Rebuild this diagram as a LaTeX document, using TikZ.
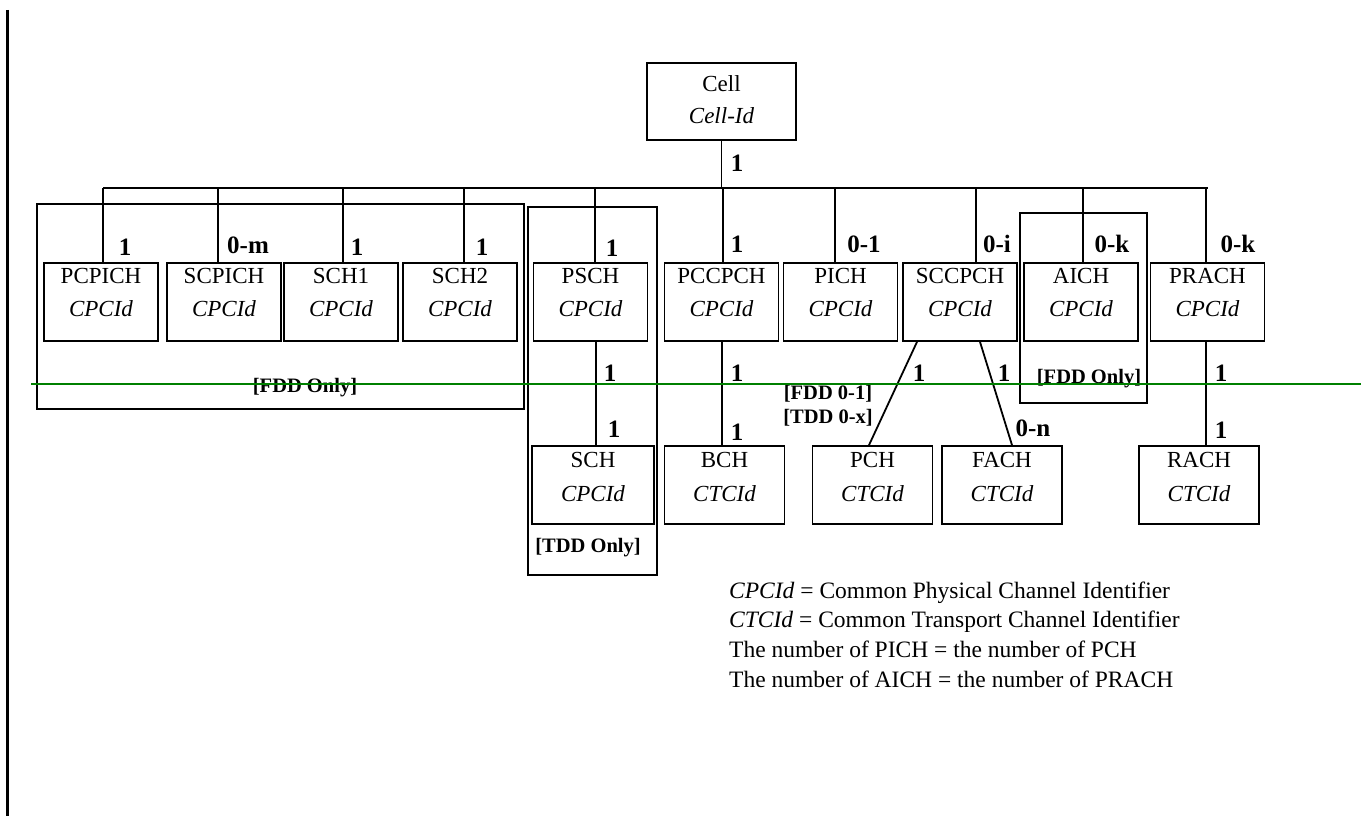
\documentclass[tikz,border=0pt]{standalone}
\usepackage{fontspec}
\setmainfont{Liberation Serif}
\usetikzlibrary{calc}
\begin{document}
\begin{tikzpicture}[x=1pt,y=-1pt,
  chbox/.style={draw, line width=1.8pt, minimum width=114pt, minimum height=78pt, inner sep=0pt},
  lowbox/.style={chbox, minimum width=120pt},
  txt/.style={font=\fontsize{23}{26}\selectfont, inner sep=0pt},
  idtxt/.style={font=\fontsize{23}{26}\selectfont\itshape, inner sep=0pt},
  lab/.style={font=\fontsize{25}{28}\selectfont\bfseries, inner sep=0pt},
  glab/.style={font=\fontsize{20.5}{24}\selectfont\bfseries, inner sep=0pt},
  grp/.style={draw, line width=1.8pt},
  conn/.style={line width=1.8pt},
  legend/.style={font=\fontsize{23.5}{26}\selectfont, inner sep=0pt, anchor=base west}]
\useasboundingbox (0,0) rectangle (1371,816);
\definecolor{lgreen}{RGB}{0,128,0}

% left margin line
\coordinate (mt) at (7.5,10);
\coordinate (mb) at (7.5,816);
\draw[line width=2.2pt] (mt) -- (mb);

% group frames
\node[grp, minimum width=487pt, minimum height=205pt, inner sep=0pt] (gFDD) at (280.5,306.5) {};
\node[grp, minimum width=129pt, minimum height=368pt, inner sep=0pt] (gTDD) at (592.5,391) {};
\node[grp, minimum width=127pt, minimum height=190pt, inner sep=0pt] (gAICH) at (1083.5,308) {};
\node[glab] (lFDD) at (305,388) {[FDD Only]};
\node[glab] (lTDD) at (588,548) {[TDD Only]};
\node[glab] (lAICH) at (1089,379) {[FDD Only]};

% Cell
\node[draw, line width=1.8pt, minimum width=149pt, minimum height=77pt, inner sep=0pt] (Cell) at (721.5,101.5) {};
\node[txt] (CellT) at (721.5,84) {Cell};
\node[idtxt] (CellI) at (721.5,116) {Cell-Id};

% first level boxes
\foreach \n/\x/\t in {PCPICH/101/PCPICH, SCPICH/224/SCPICH, SCHa/341/SCH1, SCHb/460/SCH2,
                      PSCH/590.5/PSCH, PCCPCH/721.5/PCCPCH, PICH/840.5/PICH, SCCPCH/960/SCCPCH,
                      AICH/1081/AICH, PRACH/1207.5/PRACH}{
  \node[chbox] (\n) at (\x,302) {};
  \node[txt] (\n T) at (\x,276) {\t};
  \node[idtxt] (\n I) at (\x,309) {CPCId};
}

% second level boxes
\node[lowbox, minimum width=122pt] (SCH) at (593,485) {};
\node[txt] (SCHT) at (593,460) {SCH};
\node[idtxt] (SCHI) at (593,494) {CPCId};
\foreach \n/\x in {BCH/724.5, PCH/872.5, FACH/1002, RACH/1199}{
  \node[lowbox] (\n) at (\x,485) {};
  \node[txt] (\n T) at (\x,460) {\n};
  \node[idtxt] (\n I) at (\x,494) {CTCId};
}

% bus
\coordinate (busL) at (103,188);
\coordinate (busR) at (1208,188);
\draw[conn] (busL) -- (busR);
\draw[conn] (Cell.south) -- (Cell.south |- busL);
\draw[conn] ([xshift=2pt]PCPICH.north) -- ([xshift=2pt]PCPICH.north |- busL);
\draw[conn] ([xshift=-6pt]SCPICH.north) -- ([xshift=-6pt]SCPICH.north |- busL);
\draw[conn] ([xshift=2pt]SCHa.north) -- ([xshift=2pt]SCHa.north |- busL);
\draw[conn] ([xshift=4pt]SCHb.north) -- ([xshift=4pt]SCHb.north |- busL);
\draw[conn] ([xshift=4.5pt]PSCH.north) -- ([xshift=4.5pt]PSCH.north |- busL);
\draw[conn] ([xshift=1.5pt]PCCPCH.north) -- ([xshift=1.5pt]PCCPCH.north |- busL);
\draw[conn] ([xshift=-5.5pt]PICH.north) -- ([xshift=-5.5pt]PICH.north |- busL);
\draw[conn] ([xshift=16pt]SCCPCH.north) -- ([xshift=16pt]SCCPCH.north |- busL);
\draw[conn] ([xshift=2pt]AICH.north) -- ([xshift=2pt]AICH.north |- busL);
\draw[conn] ([xshift=-1.5pt]PRACH.north) -- ([xshift=-1.5pt]PRACH.north |- busL);

% second level connectors
\draw[conn] ([xshift=5.5pt]PSCH.south) -- ([xshift=5.5pt]PSCH.south |- SCH.north);
\draw[conn] ([xshift=0.5pt]PCCPCH.south) -- ([xshift=0.5pt]PCCPCH.south |- BCH.north);
\draw[conn] ([xshift=-43pt]SCCPCH.south) -- ([xshift=-3.5pt]PCH.north);
\draw[conn] ([xshift=20pt]SCCPCH.south) -- ([xshift=10pt]FACH.north);
\draw[conn] ([xshift=-1.5pt]PRACH.south) -- ([xshift=-1.5pt]PRACH.south |- RACH.north);

% multiplicity labels
\node[lab] (m0) at (737,163) {1};
\node[lab] (m1) at (125,247) {1};
\node[lab] (m2) at (248,245) {0-m};
\node[lab] (m3) at (357,247) {1};
\node[lab] (m4) at (482,247) {1};
\node[lab] (m5) at (612,248) {1};
\node[lab] (m6) at (737,244) {1};
\node[lab] (m7) at (864,244) {0-1};
\node[lab] (m8) at (997,244) {0-i};
\node[lab] (m9) at (1112,244) {0-k};
\node[lab] (m10) at (1238,244) {0-k};
\node[lab] (n1) at (610,373) {1};
\node[lab] (n2) at (614,429) {1};
\node[lab] (n3) at (737,373) {1};
\node[lab] (n4) at (737,432) {1};
\node[lab] (n5) at (919,373) {1};
\node[glab] (n6) at (828,394) {[FDD 0-1]};
\node[glab] (n7) at (828,418) {[TDD 0-x]};
\node[lab] (n8) at (1004,373) {1};
\node[lab] (n9) at (1033,428) {0-n};
\node[lab] (n10) at (1221,373) {1};
\node[lab] (n11) at (1221,430) {1};

% legend
\node[legend] (g1) at (729,598) {\textit{CPCId} = Common Physical Channel Identifier};
\node[legend] (g2) at (729,627) {\textit{CTCId} = Common Transport Channel Identifier};
\node[legend] (g3) at (729,657) {The number of PICH = the number of PCH};
\node[legend] (g4) at (729,687) {The number of AICH = the number of PRACH};

% green line
\coordinate (gl) at (31,384);
\coordinate (gr) at (1361,384);
\draw[lgreen, line width=2pt] (gl) -- (gr);
\end{tikzpicture}
\end{document}
